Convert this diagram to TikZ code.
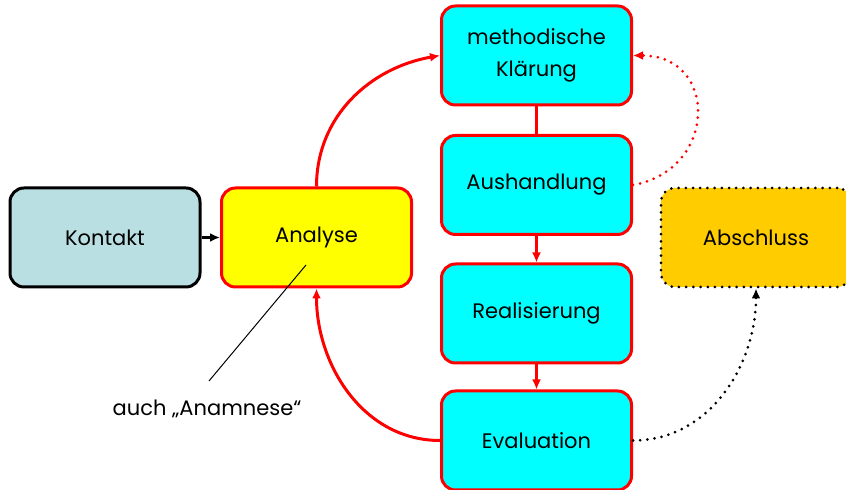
\documentclass[tikz,border=0pt]{standalone}
\usepackage{fontspec}
\setmainfont{Poppins}
\usepackage{tikz}
\usetikzlibrary{arrows.meta, calc}

\definecolor{kontaktblau}{HTML}{B9DFE3}
\definecolor{abschlussgelb}{HTML}{FFCC00}
\definecolor{tuerkis}{HTML}{00FFFF}
\definecolor{gelb}{HTML}{FFFF00}
\definecolor{rot}{HTML}{FF0000}

\tikzset{
  box/.style={draw, rounded corners=7pt, line width=1.5pt, minimum width=95pt,
    minimum height=49.5pt, align=center, font=\fontsize{10.5}{16}\selectfont},
  phase/.style={box, draw=rot, fill=tuerkis},
  punkte/.style={line width=1.5pt, line cap=round, dash pattern=on 0pt off 3.6pt},
  pfeil/.style={-{Latex[length=5pt,width=4.5pt]}},
  rotlinie/.style={draw=rot, line width=1.5pt},
}

\begin{document}
\begin{tikzpicture}[x=0.5pt, y=-0.5pt]
    \useasboundingbox (0,0) rectangle (846,490);
    %Kästen setzen
    \node[box, fill=kontaktblau] (kontakt) at (105,237.5) {Kontakt};
    \node[box, draw=rot, fill=gelb] (analyse) at (316.5,237.5) {Analyse};
    \node[phase] (klaerung) at (536.5,55.5) {methodische\\Klärung};
    \node[phase] (aushandlung) at (536.5,185) {Aushandlung};
    \node[phase] (realisierung) at (536.5,313.5) {Realisierung};
    \node[phase] (evaluation) at (536.5,440.5) {Evaluation};
    \node[box, punkte, fill=abschlussgelb] (abschluss) at (756,237.5) {Abschluss};
    %Anmerkung
    \node[font=\fontsize{10.5}{14}\selectfont] (anamnese) at (207,409) {auch „Anamnese“};
    \coordinate (ana-pkt) at (306,265);
    \draw[line width=0.5pt] (ana-pkt)--($(anamnese.north)+(2,-12)$);
    %gerade Verbindungen
    \draw[pfeil, line width=1.5pt] (kontakt)--(analyse);
    \draw[rotlinie] (klaerung)--(aushandlung);
    \draw[rotlinie, pfeil] (aushandlung)--(realisierung);
    \draw[rotlinie, pfeil] (realisierung)--(evaluation);
    %Bögen
    \draw[rotlinie, pfeil] (analyse.north) to[out=90, in=190] (klaerung.west);
    \draw[rotlinie, pfeil] (evaluation.west) to[out=180, in=270] (analyse.south);
    \draw[rot, punkte, pfeil] (aushandlung.east) to[out=10, in=0, looseness=1.7] (klaerung.east);
    \draw[punkte, pfeil] (evaluation.east) to[out=0, in=270] (abschluss.south);
  \end{tikzpicture}
\end{document}
